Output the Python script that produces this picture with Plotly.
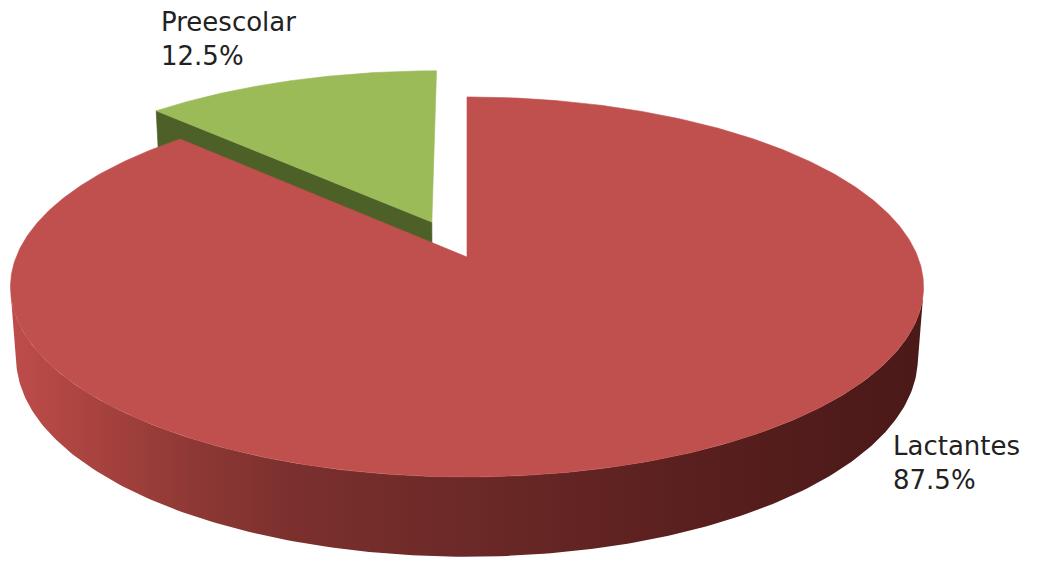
import numpy as np
import plotly.graph_objects as go

# ---- data ----
categories = ["Lactantes", "Preescolar"]
values = [87.5, 12.5]
pull = [0.0, 0.21]          # explode fraction of radius
top_colors = ["#C0504D", "#9BBB59"]
face_colors = ["#8E3835", "#4D6027"]

# ---- 3-D pie projection settings ----
W, H_PX = 1041, 565
CX, CY = 467.0, 257.0       # screen position of pie centre
F = 2606.0                  # focal length in px
R = 0.173                   # radius (camera distance = 1)
THICK = 0.0298              # pie thickness
SIN_A = 0.411               # camera elevation
COS_A = np.sqrt(1 - SIN_A ** 2)


def project(xw, yw, zw):
    xw, yw, zw = np.asarray(xw, float), np.asarray(yw, float), np.asarray(zw, float)
    depth = 1 + yw * COS_A - zw * SIN_A
    yc = yw * SIN_A + zw * COS_A
    return CX + F * xw / depth, CY - F * yc / depth


def arc(phi0, phi1, ox, oy, z, n=200):
    phi = np.linspace(phi0, phi1, n)
    return project(ox + R * np.cos(phi), oy + R * np.sin(phi), np.full(n, z))


total = sum(values)
fig = go.Figure()

# slice angles: clockwise from 12 o'clock
slices = []
start = np.pi / 2
for cat, val, pl in zip(categories, values, pull):
    sweep = 2 * np.pi * val / total
    a0, a1 = start, start - sweep
    mid = (a0 + a1) / 2
    ox, oy = pl * R * np.cos(mid), pl * R * np.sin(mid)
    slices.append(dict(cat=cat, val=val, a0=a0, a1=a1, ox=ox, oy=oy))
    start = a1

big, small = slices[0], slices[1]


def poly(xs, ys, color):
    fig.add_trace(go.Scatter(
        x=np.append(xs, xs[0]), y=np.append(ys, ys[0]), mode="lines",
        fill="toself", fillcolor=color,
        line=dict(width=0.6, color=color), hoverinfo="skip", showlegend=False))


# small slice: radial cut face at its leading edge (turned toward the viewer)
s = small
ex, ey = s["ox"] + R * np.cos(s["a0"]), s["oy"] + R * np.sin(s["a0"])
qx, qy = project([s["ox"], ex, ex, s["ox"]], [s["oy"], ey, ey, s["oy"]],
                 [0, 0, -THICK, -THICK])
poly(qx, qy, face_colors[1])

# small slice: top face
ax_, ay_ = arc(s["a0"], s["a1"], s["ox"], s["oy"], 0)
cx0, cy0 = project(s["ox"], s["oy"], 0)
poly(np.concatenate([[cx0], ax_]), np.concatenate([[cy0], ay_]), top_colors[1])

# big slice: curved outer wall, front part only
sil = np.arcsin(R / COS_A)
tx, ty = arc(np.pi + sil, 2 * np.pi - sil, big["ox"], big["oy"], 0)
bx, by = arc(2 * np.pi - sil, np.pi + sil, big["ox"], big["oy"], -THICK)
wx, wy = np.concatenate([tx, bx]), np.concatenate([ty, by])
fig.add_trace(go.Scatter(
    x=np.append(wx, wx[0]), y=np.append(wy, wy[0]), mode="lines", fill="toself",
    fillgradient=dict(
        type="horizontal", start=float(wx.min()), stop=float(wx.max()),
        colorscale=[[0.0, "#BE4D4A"], [0.09, "#A9433F"], [0.2, "#8E3835"],
                    [0.31, "#7B302E"], [0.53, "#692826"], [0.76, "#581F1E"],
                    [1.0, "#4A1918"]]),
    line=dict(width=0), hoverinfo="skip", showlegend=False))

# big slice: top face
ax_, ay_ = arc(big["a0"], big["a1"], big["ox"], big["oy"], 0, n=600)
cx0, cy0 = project(big["ox"], big["oy"], 0)
poly(np.concatenate([[cx0], ax_]), np.concatenate([[cy0], ay_]), top_colors[0])

# ---- labels ----
label_font = dict(family="DejaVu Sans", size=26, color="#222222")
label_pos = {"Preescolar": (159, 5), "Lactantes": (891, 429)}
for s in slices:
    lx, ly = label_pos[s["cat"]]
    pct = f"{100 * s['val'] / total:.1f}%"
    fig.add_annotation(x=lx, y=ly, text=f"{s['cat']}<br>{pct}", showarrow=False,
                       xanchor="left", yanchor="top", align="left", font=label_font)

fig.update_xaxes(range=[0, W], visible=False, fixedrange=True)
fig.update_yaxes(range=[H_PX, 0], visible=False, fixedrange=True)
fig.update_layout(width=W, height=H_PX, margin=dict(l=0, r=0, t=0, b=0),
                  paper_bgcolor="white", plot_bgcolor="white", showlegend=False)

fig.write_html("out.html")
